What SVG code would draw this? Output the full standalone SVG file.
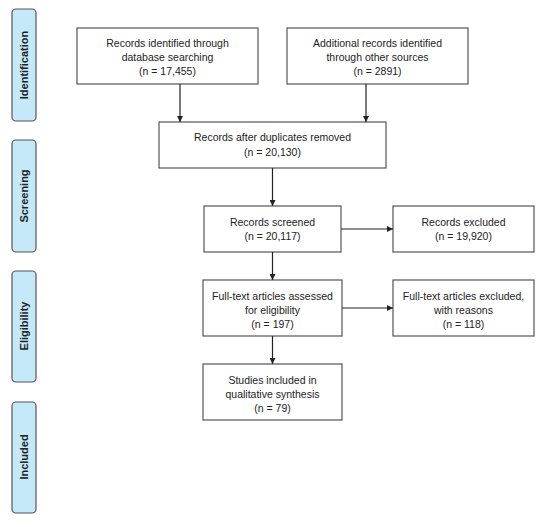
<svg xmlns="http://www.w3.org/2000/svg" width="550" height="527" viewBox="0 0 550 527">
<style>
.box{fill:#fff;stroke:#555;stroke-width:1.2}
.phase{fill:#c6e9fa;stroke:#555;stroke-width:1.2}
.t{font-family:"Liberation Sans",Arial,sans-serif;font-size:10.5px;fill:#222;text-anchor:middle}
.pt{font-family:"Liberation Sans",Arial,sans-serif;font-size:11px;font-weight:bold;fill:#222;text-anchor:middle}
.c{stroke:#222;stroke-width:1.2;fill:none;marker-end:url(#ah)}
</style>
<defs>
<marker id="ah" viewBox="0 0 10 10" refX="10" refY="5" markerWidth="6" markerHeight="6" markerUnits="userSpaceOnUse" orient="auto">
<path d="M0,0 L10,5 L0,10 z" fill="#222"/>
</marker>
</defs>
<rect width="550" height="527" fill="#fff"/>
<g id="phase-identification"><rect class="phase" x="12" y="9" width="24" height="112" rx="4"/><text class="pt" transform="translate(28,65) rotate(-90)">Identification</text></g>
<g id="phase-screening"><rect class="phase" x="12" y="140" width="24" height="112" rx="4"/><text class="pt" transform="translate(28,196) rotate(-90)">Screening</text></g>
<g id="phase-eligibility"><rect class="phase" x="12" y="271" width="24" height="111" rx="4"/><text class="pt" transform="translate(28,326) rotate(-90)">Eligibility</text></g>
<g id="phase-included"><rect class="phase" x="12" y="402" width="24" height="111" rx="4"/><text class="pt" transform="translate(28,457) rotate(-90)">Included</text></g>
<g id="n1"><rect class="box" x="77" y="28" width="181" height="56"/><text class="t" x="167.5" y="47">Records identified through</text><text class="t" x="167.5" y="61">database searching</text><text class="t" x="167.5" y="75">(n = 17,455)</text></g>
<g id="n2"><rect class="box" x="287" y="28" width="181" height="56"/><text class="t" x="377.5" y="47">Additional records identified</text><text class="t" x="377.5" y="61">through other sources</text><text class="t" x="377.5" y="75">(n = 2891)</text></g>
<g id="n3"><rect class="box" x="159" y="122" width="227" height="46"/><text class="t" x="272.5" y="141">Records after duplicates removed</text><text class="t" x="272.5" y="156">(n = 20,130)</text></g>
<g id="n4"><rect class="box" x="204" y="206" width="137" height="46"/><text class="t" x="272.5" y="225.5">Records screened</text><text class="t" x="272.5" y="239.5">(n = 20,117)</text></g>
<g id="n5"><rect class="box" x="393" y="206" width="141" height="46"/><text class="t" x="463.5" y="225.5">Records excluded</text><text class="t" x="463.5" y="239.5">(n = 19,920)</text></g>
<g id="n6"><rect class="box" x="203" y="280" width="139" height="56"/><text class="t" x="272.5" y="299.5">Full-text articles assessed</text><text class="t" x="272.5" y="313.5">for eligibility</text><text class="t" x="272.5" y="327.5">(n = 197)</text></g>
<g id="n7"><rect class="box" x="393" y="280" width="141" height="56"/><text class="t" x="463.5" y="299.5">Full-text articles excluded,</text><text class="t" x="463.5" y="313.5">with reasons</text><text class="t" x="463.5" y="327.5">(n = 118)</text></g>
<g id="n8"><rect class="box" x="203" y="364" width="139" height="56"/><text class="t" x="272.5" y="383.5">Studies included in</text><text class="t" x="272.5" y="397.5">qualitative synthesis</text><text class="t" x="272.5" y="411.5">(n = 79)</text></g>
<g id="connectors">
<line class="c" x1="180" y1="84" x2="180" y2="122"/>
<line class="c" x1="366" y1="84" x2="366" y2="122"/>
<line class="c" x1="272.5" y1="168" x2="272.5" y2="206"/>
<line class="c" x1="272.5" y1="252" x2="272.5" y2="280"/>
<line class="c" x1="272.5" y1="336" x2="272.5" y2="364"/>
<line class="c" x1="341" y1="229" x2="393" y2="229"/>
<line class="c" x1="342" y1="308" x2="393" y2="308"/>
</g>
</svg>
